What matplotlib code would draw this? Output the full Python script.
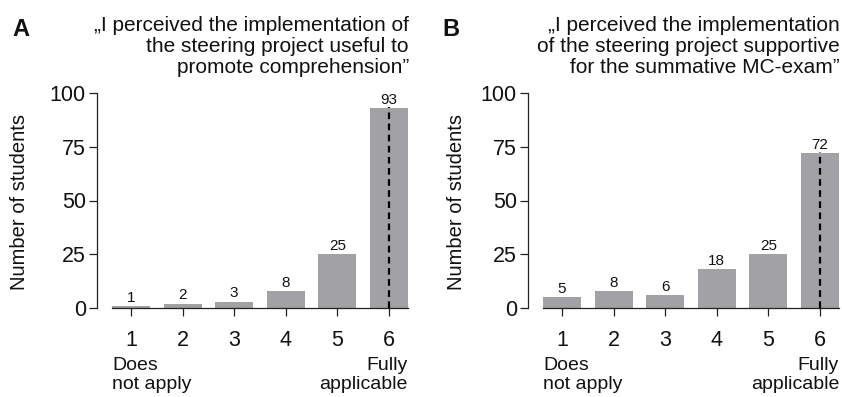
import matplotlib
matplotlib.use("Agg")
import matplotlib.pyplot as plt

plt.rcParams['font.family'] = ['Liberation Sans', 'DejaVu Sans']

categories = [1, 2, 3, 4, 5, 6]
tick_labels = ["1", "2", "3", "4", "5", "6"]
counts_a = [1, 2, 3, 8, 25, 93]
counts_b = [5, 8, 6, 18, 25, 72]
median_a = 6
median_b = 6
title_a = "\u201eI perceived the implementation of\nthe steering project useful to\npromote comprehension\u201d"
title_b = "\u201eI perceived the implementation\nof the steering project supportive\nfor the summative MC-exam\u201d"
low_label = "Does\nnot apply"
high_label = "Fully\napplicable"
ylabel = "Number of students"
yticks = [0, 25, 50, 75, 100]

W, H = 842, 397
fig = plt.figure(figsize=(W / 100, H / 100), dpi=100)

bar_color = "#a2a2a6"
line_color = "#222222"
text_color = "#111111"
AX_W = 311


def panel(left_px, counts, median, title, ylabel_x_px, right_px):
    ax = fig.add_axes([left_px / W, (H - 308) / H, AX_W / W, 215 / H])
    ax.bar(categories, counts, width=0.74, color=bar_color, zorder=2)
    ax.vlines(median, 0, counts[categories.index(median)] + 0.5,
              colors="black", linestyles=(0, (3, 2)), linewidth=1.6,
              zorder=3)
    for x, c in zip(categories, counts):
        ax.text(x, c + 0.6, str(c), ha="center", va="bottom", fontsize=11,
                color=text_color)
    ax.set_xlim(0.34, 6.37)
    ax.set_ylim(0, 100)
    ax.set_yticks(yticks)
    ax.set_xticks(categories)
    ax.set_xticklabels(tick_labels)
    for s in ["top", "right"]:
        ax.spines[s].set_visible(False)
    ax.spines["bottom"].set_bounds(0.63, 6.37)
    for s in ["left", "bottom"]:
        ax.spines[s].set_color(line_color)
        ax.spines[s].set_linewidth(0.9)
        ax.spines[s].set_zorder(4)
    ax.tick_params(axis="y", length=6, width=0.9, color=line_color,
                   labelsize=15.5, pad=2, labelcolor=text_color)
    ax.tick_params(axis="x", length=6, width=0.9, color=line_color,
                   labelsize=15.5, pad=9.5, labelcolor=text_color)
    ax.text(0.63, -0.228, low_label, transform=ax.get_xaxis_transform(),
            ha="left", va="top", fontsize=14, color=text_color,
            linespacing=1.15)
    ax.text(6.37, -0.228, high_label, transform=ax.get_xaxis_transform(),
            ha="right", va="top", fontsize=14, color=text_color,
            linespacing=1.15)
    fig.text(right_px / W, 1 - 16 / H, title, ha="right", va="top",
             fontsize=15, color=text_color, linespacing=1.13)
    fig.text(ylabel_x_px / W, (H - 202) / H, ylabel, rotation=90,
             ha="center", va="center", fontsize=14.5, color=text_color)
    return ax


panel(97, counts_a, median_a, title_a, 20, 409)
panel(528, counts_b, median_b, title_b, 456, 840)

fig.text(12 / W, 1 - 18 / H, "A", ha="left", va="top", fontsize=17,
         fontweight="bold", color=text_color)
fig.text(442 / W, 1 - 18 / H, "B", ha="left", va="top", fontsize=17,
         fontweight="bold", color=text_color)

fig.savefig("out.png", dpi=100)
